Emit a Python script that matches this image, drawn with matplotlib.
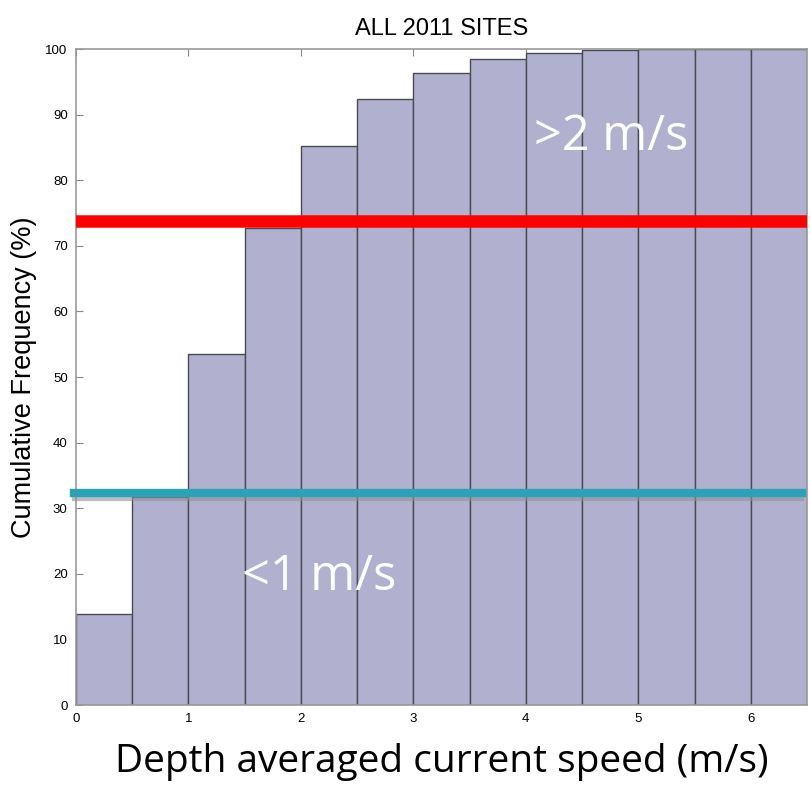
import numpy as np
import matplotlib
matplotlib.use('Agg')
import matplotlib.pyplot as plt

# cumulative frequency per 0.5 m/s speed bin
bin_edges = [0.0, 0.5, 1.0, 1.5, 2.0, 2.5, 3.0, 3.5, 4.0, 4.5, 5.0, 5.5, 6.0, 6.5]
cum_freq = [13.8, 31.7, 53.5, 72.7, 85.2, 92.4, 96.3, 98.5, 99.4, 99.8, 100, 100, 100]

# threshold levels
level_fast = 73.8   # >2 m/s
level_slow = 32.3   # <1 m/s

fig = plt.figure(figsize=(8.12, 7.91), dpi=100)
ax = fig.add_axes([0.0936, 0.1087, 0.9002, 0.8293])

left = np.array(bin_edges[:-1])
width = np.diff(bin_edges)
ax.bar(left, cum_freq, width=width, align='edge', color='#b1b1cf',
       edgecolor='#4a4a55', linewidth=1.0, zorder=2)

ax.set_xlim(0, 6.5)
ax.set_ylim(0, 100)
ax.set_xticks(range(0, 7))
ax.set_yticks(range(0, 101, 10))
ax.tick_params(direction='in', length=5, top=True, right=False, labelsize=9.5,
               color='#888888', pad=6)
for lab in ax.get_xticklabels() + ax.get_yticklabels():
    lab.set_family(['Liberation Sans', 'DejaVu Sans'])
for s in ax.spines.values():
    s.set_color('#999999')
    s.set_linewidth(1.2)

ax.set_title('ALL 2011 SITES', fontsize=17, pad=10,
             family=['Liberation Sans', 'DejaVu Sans'])
ax.set_ylabel('Cumulative Frequency (%)', fontsize=19.5, labelpad=6,
              family=['Liberation Sans', 'DejaVu Sans'])
ax.set_xlabel('Depth averaged current speed (m/s)', fontsize=28, labelpad=13,
              family=['Open Sans', 'DejaVu Sans'])

# threshold lines
ax.axhline(level_fast, xmin=0, xmax=0.997, color='#ff0000', linewidth=9, zorder=4)
ax.axhline(level_slow - 0.9, xmin=-0.003, xmax=0.993, color='#909098',
           linewidth=3, alpha=0.6, zorder=3, clip_on=False)
ax.axhline(level_slow, xmin=-0.003, xmax=0.993, color='#2aa3b8', linewidth=6,
           zorder=4, clip_on=False)

ax.text(4.76, 86.6, '>2 m/s', color='white', fontsize=35, ha='center', va='center',
        family=['Open Sans', 'DejaVu Sans'], zorder=5)
ax.text(2.16, 19.5, '<1 m/s', color='white', fontsize=35, ha='center', va='center',
        family=['Open Sans', 'DejaVu Sans'], zorder=5)

fig.savefig('out.png', dpi=100)
